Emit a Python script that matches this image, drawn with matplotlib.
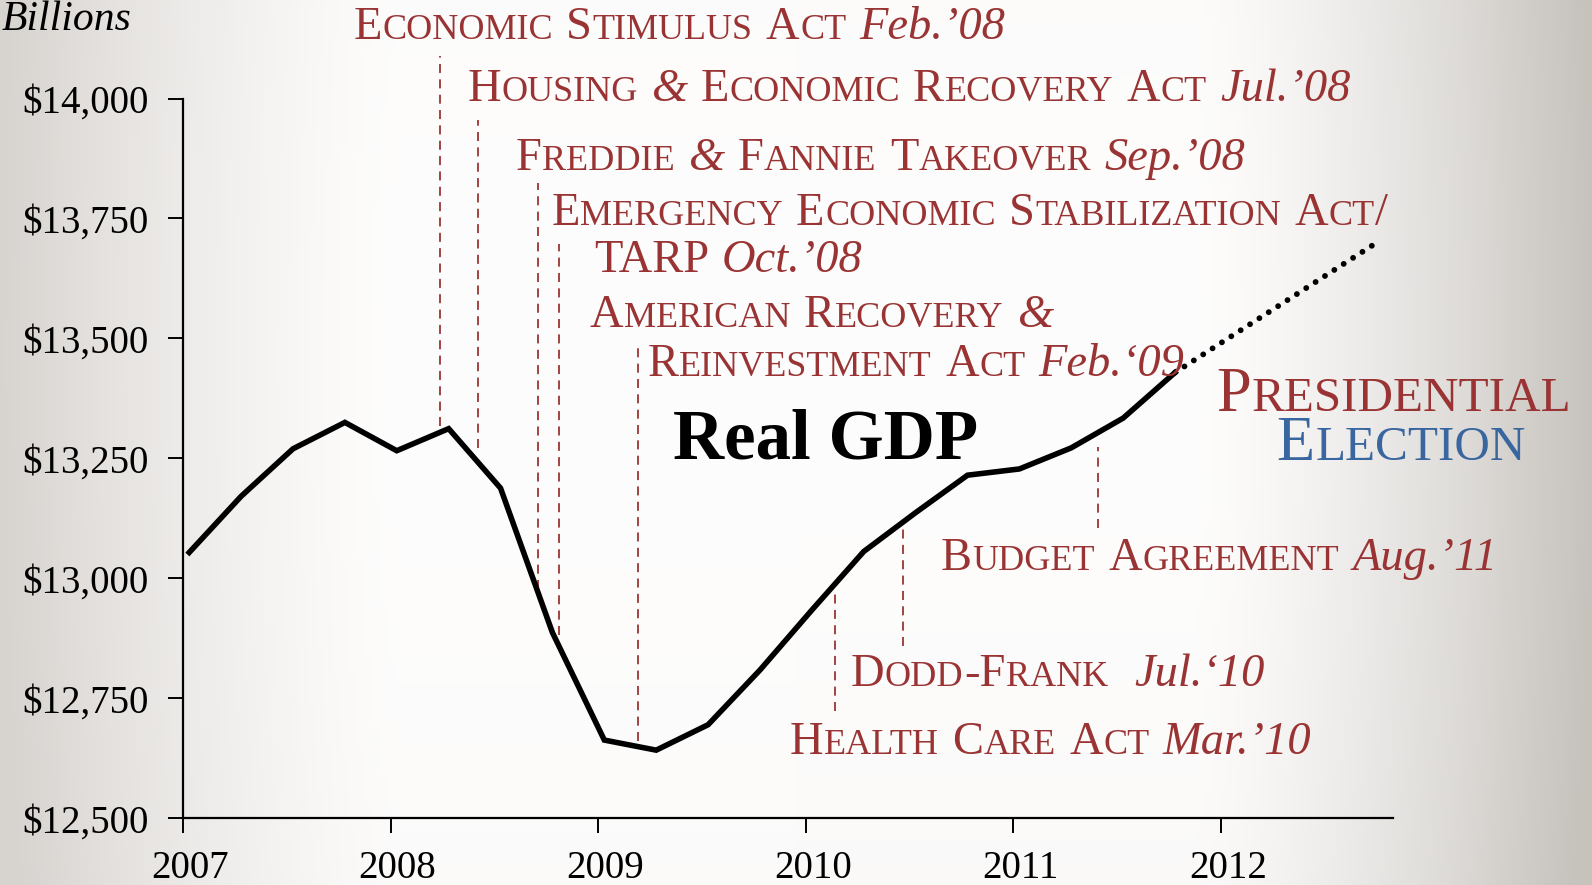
import numpy as np
import matplotlib
import matplotlib.pyplot as plt
from matplotlib.transforms import IdentityTransform, ScaledTranslation

matplotlib.use("Agg")

plt.rcParams["font.family"] = ["Liberation Serif", "DejaVu Serif"]

# Real GDP by quarter, billions of dollars
quarters = [2007.03, 2007.28, 2007.53, 2007.78, 2008.03, 2008.28, 2008.53, 2008.78,
            2009.03, 2009.28, 2009.53, 2009.78, 2010.03, 2010.28, 2010.53, 2010.78,
            2011.03, 2011.28, 2011.53, 2011.78]
gdp = [13054, 13171, 13270, 13325, 13266, 13312, 13188, 12887,
       12663, 12642, 12695, 12809, 12934, 13056, 13137, 13215,
       13228, 13272, 13334, 13429]
proj_x = [2011.78, 2012.76]
proj_y = [13429, 13702]

year_ticks = [2007, 2008, 2009, 2010, 2011, 2012]
gdp_ticks = [12500, 12750, 13000, 13250, 13500, 13750, 14000]
gdp_tick_labels = ["$12,500", "$12,750", "$13,000", "$13,250", "$13,500", "$13,750", "$14,000"]

# policy events: date, top and bottom of the dashed marker
event_dates = [2008.24, 2008.42, 2008.71, 2008.81, 2009.19, 2010.14, 2010.47, 2011.41]
event_top = [14089, 13956, 13824, 13697, 13482, 12978, 13105, 13274]
event_bottom = [13317, 13272, 12978, 12883, 12661, 12724, 12860, 13105]

# label lines: anchor (year, value), small-caps part, italic part
label_x = [2007.821, 2008.369, 2008.603, 2008.774, 2008.979, 2008.960, 2009.239, 2010.651, 2010.216, 2009.923]
label_y = [14123, 13994, 13852, 13736, 13638, 13524, 13422, 13018, 12775, 12633]
label_caps = ["Economic Stimulus Act ", "Housing & Economic Recovery Act ", "Freddie & Fannie Takeover ",
              "Emergency Economic Stabilization Act/", "TARP ", "American Recovery &",
              "Reinvestment Act ", "Budget Agreement ", "Dodd-Frank  ", "Health Care Act "]
label_dates = ["Feb.\u201908", "Jul.\u201908", "Sep.\u201908", "", "Oct.\u201908", "",
               "Feb.\u201809", "Aug.\u201911", "Jul.\u201810", "Mar.\u201910"]

RED = "#9a3434"
BLUE = "#3a66a0"

fig = plt.figure(figsize=(15.92, 8.85), dpi=100)

# background: light centre, greyer towards the left and right edges
bg = fig.add_axes([0, 0, 1, 1], zorder=-10)
xx, yy = np.meshgrid(np.linspace(0, 1, 400), np.linspace(0, 1, 220))
dx = np.abs(xx - 0.5) / 0.5
t = np.clip((dx - 0.5) / 0.5, 0, 1) ** 1.4 + 0.06 * ((yy - 0.4) / 0.6) ** 2
t = np.clip(t, 0, 1)
left_edge = np.array([0.845, 0.83, 0.815])
right_edge = np.array([0.78, 0.765, 0.745])
edge = np.where((xx < 0.5)[..., None], left_edge, right_edge)
centre = np.array([0.995, 0.992, 0.99])
img = (1 - t[..., None]) * centre + t[..., None] * edge
bg.imshow(img, aspect="auto", extent=[0, 1, 0, 1], origin="upper")
bg.axis("off")

ax = fig.add_axes([183 / 1592, 1 - 818.3 / 885, (1393 - 183) / 1592, (818.3 - 98.5) / 885])
ax.set_facecolor("none")
ax.set_xlim(2007, 2012.83)
ax.set_ylim(12500, 14000)

ax.plot(quarters, gdp, color="black", lw=4.0, solid_joinstyle="miter", zorder=5)
ax.plot(proj_x, proj_y, color="black", lw=4.2, linestyle=(0, (0.01, 1.9)),
        dash_capstyle="round", zorder=5)

for xd, yt, yb in zip(event_dates, event_top, event_bottom):
    ax.plot([xd, xd], [yb, yt], color=RED, lw=1.3, linestyle=(0, (5, 3.5)),
            clip_on=False, zorder=3)

ax.spines["top"].set_visible(False)
ax.spines["right"].set_visible(False)
ax.spines["left"].set_linewidth(1.6)
ax.spines["bottom"].set_linewidth(1.6)
ax.set_xticks(year_ticks)
ax.set_xticklabels([str(y) for y in year_ticks])
ax.set_yticks(gdp_ticks, gdp_tick_labels)
ax.tick_params(axis="both", direction="out", length=11, width=1.4, labelsize=28)
ax.tick_params(axis="y", pad=14)
ax.tick_params(axis="x", pad=12)
for lab in ax.get_xticklabels():
    lab.set_transform(lab.get_transform() + ScaledTranslation(0.07, 0, fig.dpi_scale_trans))

renderer = fig.canvas.get_renderer()
PX = fig.dpi / 72


def small_caps(x, y, caps, italic, color, big, small):
    # capitals drawn large, lower case drawn as small capitals
    chunks = []
    for ch in caps:
        if ch == " ":
            chunks.append([" ", big, "space"])
        elif ch == "&":
            chunks.append([ch, big, "italic"])
        elif ch.islower():
            chunks.append([ch.upper(), small, "normal"])
        else:
            chunks.append([ch, big, "normal"])
    if italic:
        chunks.append([italic, big, "italic"])
    runs = []
    for c in chunks:
        if runs and runs[-1][1] == c[1] and runs[-1][2] == c[2]:
            runs[-1][0] += c[0]
        else:
            runs.append(list(c))
    px, py = ax.transData.transform((x, y))
    for s, size, style in runs:
        if style == "space":
            px += len(s) * size * 0.27 * PX
            continue
        txt = fig.text(px, py, s, fontsize=size, style=style, color=color,
                       transform=IdentityTransform(), ha="left", va="baseline")
        px += txt.get_window_extent(renderer).width + 0.015 * size * PX


for x, y, caps, dt in zip(label_x, label_y, label_caps, label_dates):
    small_caps(x, y, caps, dt, RED, 33.5, 26)

small_caps(2011.976, 13348, "Presidential", "", RED, 45, 35.5)
small_caps(2012.269, 13247, "Election", "", BLUE, 45, 35.5)

ax.text(2009.361, 13249, "Real GDP", fontsize=51, fontweight="bold", color="black",
        ha="left", va="baseline")

fig.text(2, 885 - 30.5, "Billions", fontsize=30, style="italic", color="black",
         transform=IdentityTransform(), ha="left", va="baseline")

fig.savefig("out.png", dpi=100)
